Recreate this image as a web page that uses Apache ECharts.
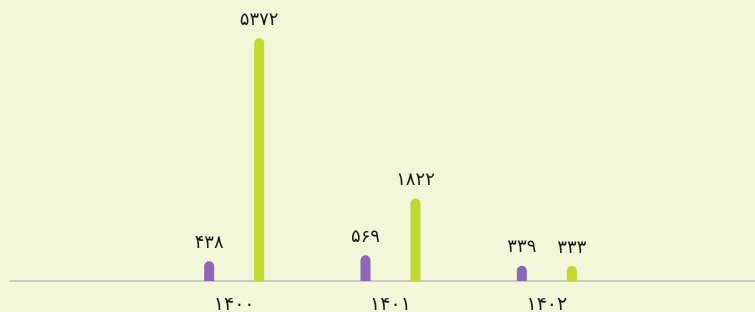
<!DOCTYPE html>
<html>
<head>
<meta charset="utf-8">
<script src="https://cdn.jsdelivr.net/npm/echarts@6/dist/echarts.min.js"></script>
<style>
  html, body { margin: 0; padding: 0; background: #f2f7d9; }
  #chart { width: 755px; height: 312px; }
</style>
</head>
<body>
<div id="chart"></div>
<script>
const categories = ['۱۴۰۰', '۱۴۰۱', '۱۴۰۲'];
const purpleValues = [438, 569, 339];
const limeValues = [5372, 1822, 333];

// اعداد به ارقام فارسی
const toFa = (n) => String(n).replace(/\d/g, (d) => '۰۱۲۳۴۵۶۷۸۹'[d]);

const chart = echarts.init(document.getElementById('chart'));

const labelStyle = {
  show: true,
  position: 'top',
  distance: 9,
  color: '#1a1a1a',
  fontSize: 18,
  fontFamily: 'DejaVu Sans',
  formatter: (p) => toFa(p.value)
};

chart.setOption({
  backgroundColor: '#f2f7d9',
  animation: false,
  grid: [
    { left: 156, right: 130, top: 38, bottom: 31, outerBoundsMode: 'none' },
    { left: 10, right: 0, top: 38, bottom: 31, outerBoundsMode: 'none' }
  ],
  xAxis: [
    {
      type: 'category',
      gridIndex: 0,
      data: categories,
      axisLine: { show: false },
      axisTick: { show: false },
      axisLabel: {
        margin: 15,
        color: '#1a1a1a',
        fontSize: 19,
        fontFamily: 'DejaVu Sans'
      }
    },
    {
      type: 'value',
      gridIndex: 1,
      min: 0,
      max: 1,
      axisLine: { show: true, lineStyle: { color: '#c8c9bf', width: 2 } },
      axisTick: { show: false },
      axisLabel: { show: false },
      splitLine: { show: false }
    }
  ],
  yAxis: [
    {
      type: 'value',
      gridIndex: 0,
      min: 0,
      max: 'dataMax',
      show: false
    },
    {
      type: 'value',
      gridIndex: 1,
      show: false
    }
  ],
  series: [
    {
      type: 'bar',
      data: purpleValues,
      barWidth: 10,
      barGap: '400%',
      itemStyle: { color: '#8d67b5', borderRadius: [5, 5, 0, 0] },
      label: labelStyle
    },
    {
      type: 'bar',
      data: limeValues,
      barWidth: 10,
      itemStyle: { color: '#c1d82f', borderRadius: [5, 5, 0, 0] },
      label: labelStyle
    }
  ]
});
</script>
</body>
</html>
